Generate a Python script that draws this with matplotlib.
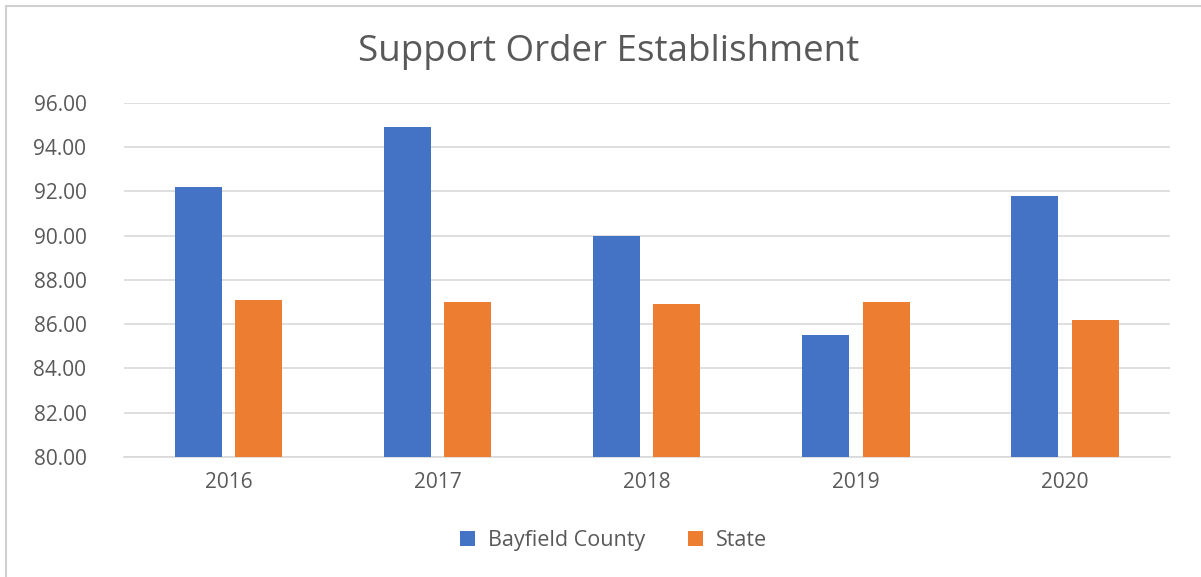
import numpy as np
import matplotlib.pyplot as plt
from matplotlib.patches import Rectangle

years = ["2016", "2017", "2018", "2019", "2020"]
bayfield = [92.2, 94.9, 90.0, 85.5, 91.8]
state = [87.1, 87.0, 86.9, 87.0, 86.2]

BLUE = "#4472C4"
ORANGE = "#ED7D31"
GRID = "#D9D9D9"
TEXT = "#595959"

plt.rcParams["font.family"] = ["Open Sans", "DejaVu Sans"]

fig = plt.figure(figsize=(12.01, 5.77), dpi=100)
ax = fig.add_axes([0.1032, 0.208, 0.8707, 0.6135])

x = np.arange(len(years))
w = 0.225
off = 0.144
ax.bar(x - off, np.array(bayfield) - 80, w, bottom=80, color=BLUE, label="Bayfield County", zorder=3)
ax.bar(x + off, np.array(state) - 80, w, bottom=80, color=ORANGE, label="State", zorder=3)

ax.set_xlim(-0.5, len(years) - 0.5)
ax.set_ylim(80, 96)
ax.set_yticks(np.arange(80, 97, 2))
ax.set_yticklabels([f"{v:.2f}" for v in np.arange(80, 97, 2)])
ax.set_xticks(x)
ax.set_xticklabels(years)
ax.grid(True, axis="y", color=GRID, linewidth=1.2, zorder=0)
for s in ["top", "right", "left"]:
    ax.spines[s].set_visible(False)
ax.spines["bottom"].set_color(GRID)
ax.spines["bottom"].set_linewidth(1.2)
ax.tick_params(axis="both", length=0, labelsize=15, labelcolor=TEXT)
ax.tick_params(axis="x", pad=11)
ax.tick_params(axis="y", pad=27)

fig.text(0.507, 0.91, "Support Order Establishment", ha="center", va="center",
         fontsize=26.5, color=TEXT)

fig.legend(loc="center", bbox_to_anchor=(0.511, 0.064), ncol=2, frameon=False,
           fontsize=15.5, labelcolor=TEXT, handlelength=0.7, handleheight=0.7,
           columnspacing=2.0, handletextpad=0.6)

fig.patches.append(Rectangle((6 / 1201, -0.1), 1.2, 1.1 - 6 / 577, transform=fig.transFigure,
                             fill=False, edgecolor="#D0D0D0", linewidth=1.5))

fig.savefig("out.png", dpi=100)
